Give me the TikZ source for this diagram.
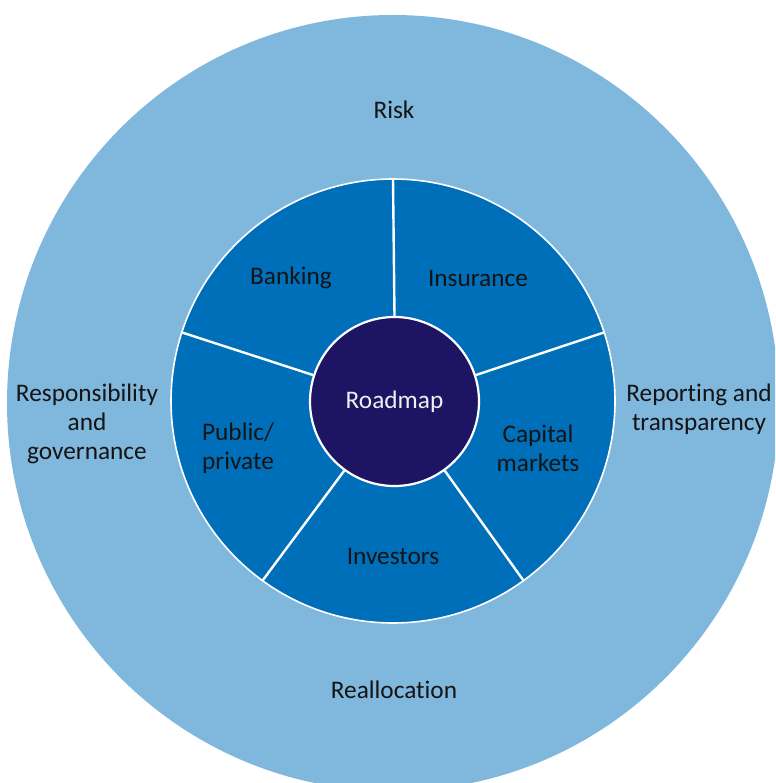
\documentclass[tikz,border=0pt]{standalone}
\usepackage{fontspec}
\setmainfont[Ligatures=CommonOff]{Carlito}
\definecolor{outerblue}{RGB}{128,183,221}
\definecolor{segblue}{RGB}{0,111,186}
\definecolor{navy}{RGB}{29,21,100}
\definecolor{txt}{RGB}{20,20,20}
\tikzset{
  lbl/.style={font=\fontsize{25.3}{29}\selectfont, text=txt, align=center, inner sep=0pt},
  whitelbl/.style={lbl, text=white!94!black},
  divider/.style={draw=white, line width=2.4pt}
}
\begin{document}
\begin{tikzpicture}[x=1pt,y=-1pt]
\useasboundingbox (0,0) rectangle (775,783);
\clip (0,0) rectangle (775,783);
% outer ring
\fill[outerblue] (393,403) ellipse [x radius=386, y radius=388];
% segment ring
\node[circle, fill=segblue, draw=white, line width=1.6pt, minimum size=444pt, inner sep=0pt] (ring) at (393,401) {};
% centre
\node[circle, fill=navy, draw=white, line width=2.2pt, minimum size=169pt, inner sep=0pt] (road) at (394.5,401.5) {};
\node[whitelbl] (roadlbl) at (road.center) {Roadmap};
% dividers
\foreach \a in {90,18,-54,-126,162} {
  \draw[divider] (road.\a) -- (ring.\a);
}
% segment labels
\node[lbl] (banking) at (291,278) {Banking};
\node[lbl] (insurance) at (478,278) {Insurance};
\node[lbl] (public) at (238,448) {Public/\\private};
\node[lbl] (capital) at (538,448) {Capital\\markets};
\node[lbl] (investors) at (393,556) {Investors};
% outer labels
\node[lbl] (risk) at (394,110) {Risk};
\node[lbl] (resp) at (87,424) {Responsibility\\and\\governance};
\node[lbl] (report) at (699,409) {Reporting and\\transparency};
\node[lbl] (realloc) at (394,690) {Reallocation};
\end{tikzpicture}
\end{document}
